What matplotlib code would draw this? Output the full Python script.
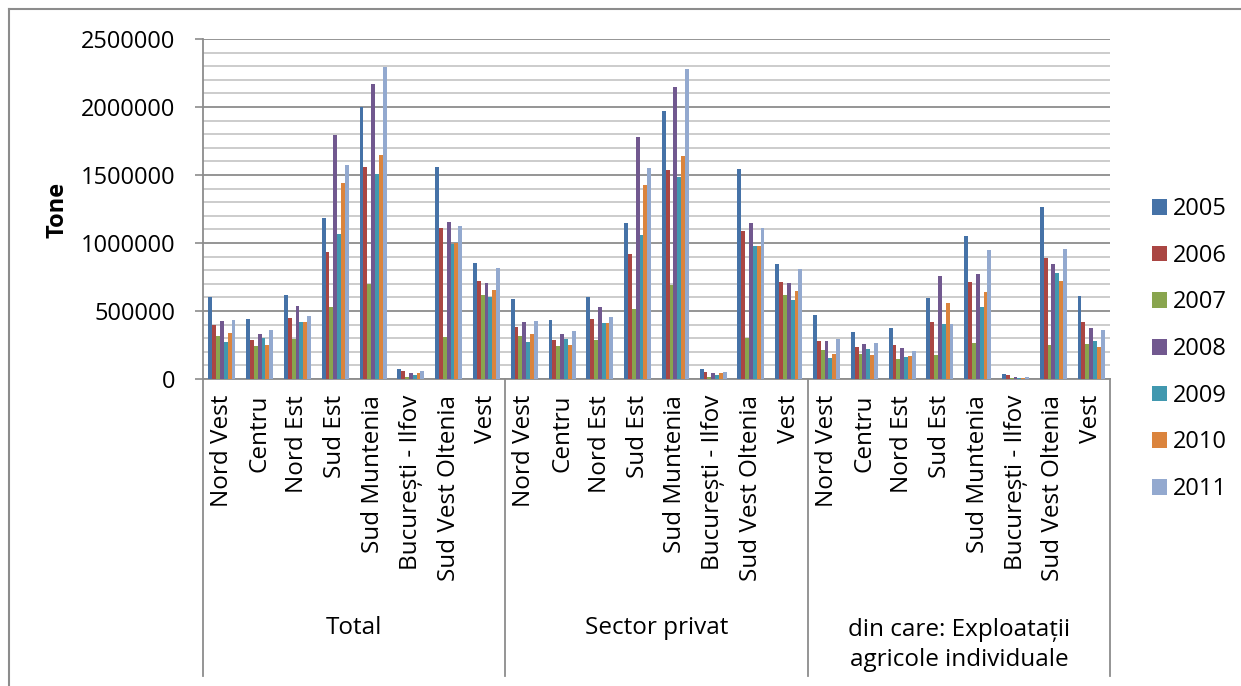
import numpy as np
import matplotlib
matplotlib.use("Agg")
import matplotlib.pyplot as plt
from matplotlib.patches import Patch
from matplotlib.lines import Line2D

plt.rcParams['font.family'] = ['Open Sans', 'DejaVu Sans']

years = ['2005', '2006', '2007', '2008', '2009', '2010', '2011']
regions = ['Nord Vest', 'Centru', 'Nord Est', 'Sud Est', 'Sud Muntenia',
           'București - Ilfov', 'Sud Vest Oltenia', 'Vest']
groups = ['Total', 'Sector privat', 'din care: Exploatații\nagricole individuale']
colors = ['#4572A7', '#AA4643', '#89A54E', '#71588F', '#4198AF', '#DB843D', '#93A9CF']

# values per year, 24 categories (Total, Sector privat, Exploatatii) x 8 regions
v2005 = [600000, 439000, 620000, 1186000, 2000000, 76000, 1556000, 853000,
         588000, 436000, 605000, 1150000, 1971000, 74000, 1542000, 846000,
         468000, 348000, 377000, 593000, 1054000, 37000, 1267000, 610000]
v2006 = [397000, 287000, 451000, 934000, 1561000, 56000, 1110000, 721000,
         385000, 284000, 441000, 919000, 1539000, 54000, 1091000, 713000,
         279000, 235000, 252000, 422000, 713000, 32000, 887000, 419000]
v2007 = [319000, 245000, 294000, 527000, 701000, 17000, 306000, 618000,
         314000, 240000, 284000, 517000, 689000, 15000, 304000, 615000,
         213000, 186000, 147000, 179000, 265000, 5000, 252000, 257000]
v2008 = [429000, 333000, 534000, 1794000, 2172000, 47000, 1157000, 708000,
         417000, 331000, 527000, 1777000, 2150000, 44000, 1145000, 706000,
         277000, 260000, 230000, 757000, 772000, 15000, 846000, 375000]
v2009 = [275000, 299000, 419000, 1064000, 1505000, 29000, 993000, 603000,
         270000, 297000, 412000, 1056000, 1483000, 27000, 978000, 583000,
         157000, 218000, 164000, 407000, 529000, 7000, 782000, 279000]
v2010 = [336000, 252000, 419000, 1439000, 1650000, 47000, 1000000, 657000,
         328000, 250000, 412000, 1429000, 1637000, 47000, 978000, 650000,
         186000, 176000, 169000, 556000, 640000, 7000, 723000, 238000]
v2011 = [431000, 358000, 461000, 1574000, 2294000, 56000, 1125000, 819000,
         426000, 355000, 453000, 1554000, 2279000, 54000, 1113000, 811000,
         294000, 267000, 206000, 407000, 946000, 15000, 953000, 360000]
series = [v2005, v2006, v2007, v2008, v2009, v2010, v2011]

y_ticks = [0, 500000, 1000000, 1500000, 2000000, 2500000]
y_tick_labels = [str(t) for t in y_ticks]

W, H = 1241, 686
fig = plt.figure(figsize=(W / 100, H / 100), dpi=100)
ax = fig.add_axes([203 / W, 1 - 379 / H, (1110 - 203) / W, 340 / H])

n_cat = len(groups) * len(regions)
x = np.arange(n_cat) + 0.5
bw = 0.102
for j, vals in enumerate(series):
    ax.bar(x + (j - 3) * bw, vals, width=bw, color=colors[j], label=years[j],
           zorder=3, linewidth=0)

ax.set_xlim(0, n_cat)
ax.set_ylim(0, 2500000)
ax.set_yticks(y_ticks)
ax.set_yticklabels(y_tick_labels, fontsize=17)
ax.set_yticks(np.arange(0, 2500001, 100000), minor=True)
ax.grid(which='minor', axis='y', color='#c8c8c8', linewidth=1.3, zorder=0)
ax.grid(which='major', axis='y', color='#8c8c8c', linewidth=1.3, zorder=1)
ax.tick_params(axis='y', which='major', length=6, width=1.2, color='#8c8c8c', pad=14)
ax.tick_params(axis='y', which='minor', length=0)
ax.set_xticks([])
for s in ['top', 'right']:
    ax.spines[s].set_visible(False)
for s in ['left', 'bottom']:
    ax.spines[s].set_color('#8c8c8c')
    ax.spines[s].set_linewidth(1.3)

# category labels
trans = ax.get_xaxis_transform()
lab_y = (379 - 395) / 340
for i in range(n_cat):
    ax.text(x[i], lab_y, regions[i % len(regions)], rotation=90, ha='center',
            va='top', fontsize=17.5, transform=trans)

# group separators and labels
sep_bottom = (379 - 676) / 340
for g in range(len(groups) + 1):
    ax.add_line(Line2D([g * 8, g * 8], [0, sep_bottom], transform=trans,
                       color='#8c8c8c', linewidth=1.3, clip_on=False))
for g, name in enumerate(groups):
    yc = 628 if '\n' not in name else 645
    ax.text(g * 8 + 4, (379 - yc) / 340, name, ha='center', va='center',
            fontsize=17.5, transform=trans, linespacing=1.35)

fig.text(58 / W, 1 - 210 / H, 'Tone', rotation=90, ha='center', va='center',
         fontsize=17, fontweight='bold')

handles = [Patch(facecolor=c, edgecolor='none') for c in colors]
fig.legend(handles, years, loc='center left',
           bbox_to_anchor=(1152 / W, 1 - 349 / H), frameon=False,
           fontsize=17, handlelength=0.64, handleheight=0.64,
           handletextpad=0.25, labelspacing=0.96, borderpad=0,
           borderaxespad=0)

# outer border (left and top visible)
fig.add_artist(Line2D([9 / W, 9 / W], [0, 1 - 9 / H], color='#8c8c8c', linewidth=1.5))
fig.add_artist(Line2D([9 / W, 1], [1 - 9 / H, 1 - 9 / H], color='#8c8c8c', linewidth=1.5))

fig.savefig('out.png', dpi=100)
